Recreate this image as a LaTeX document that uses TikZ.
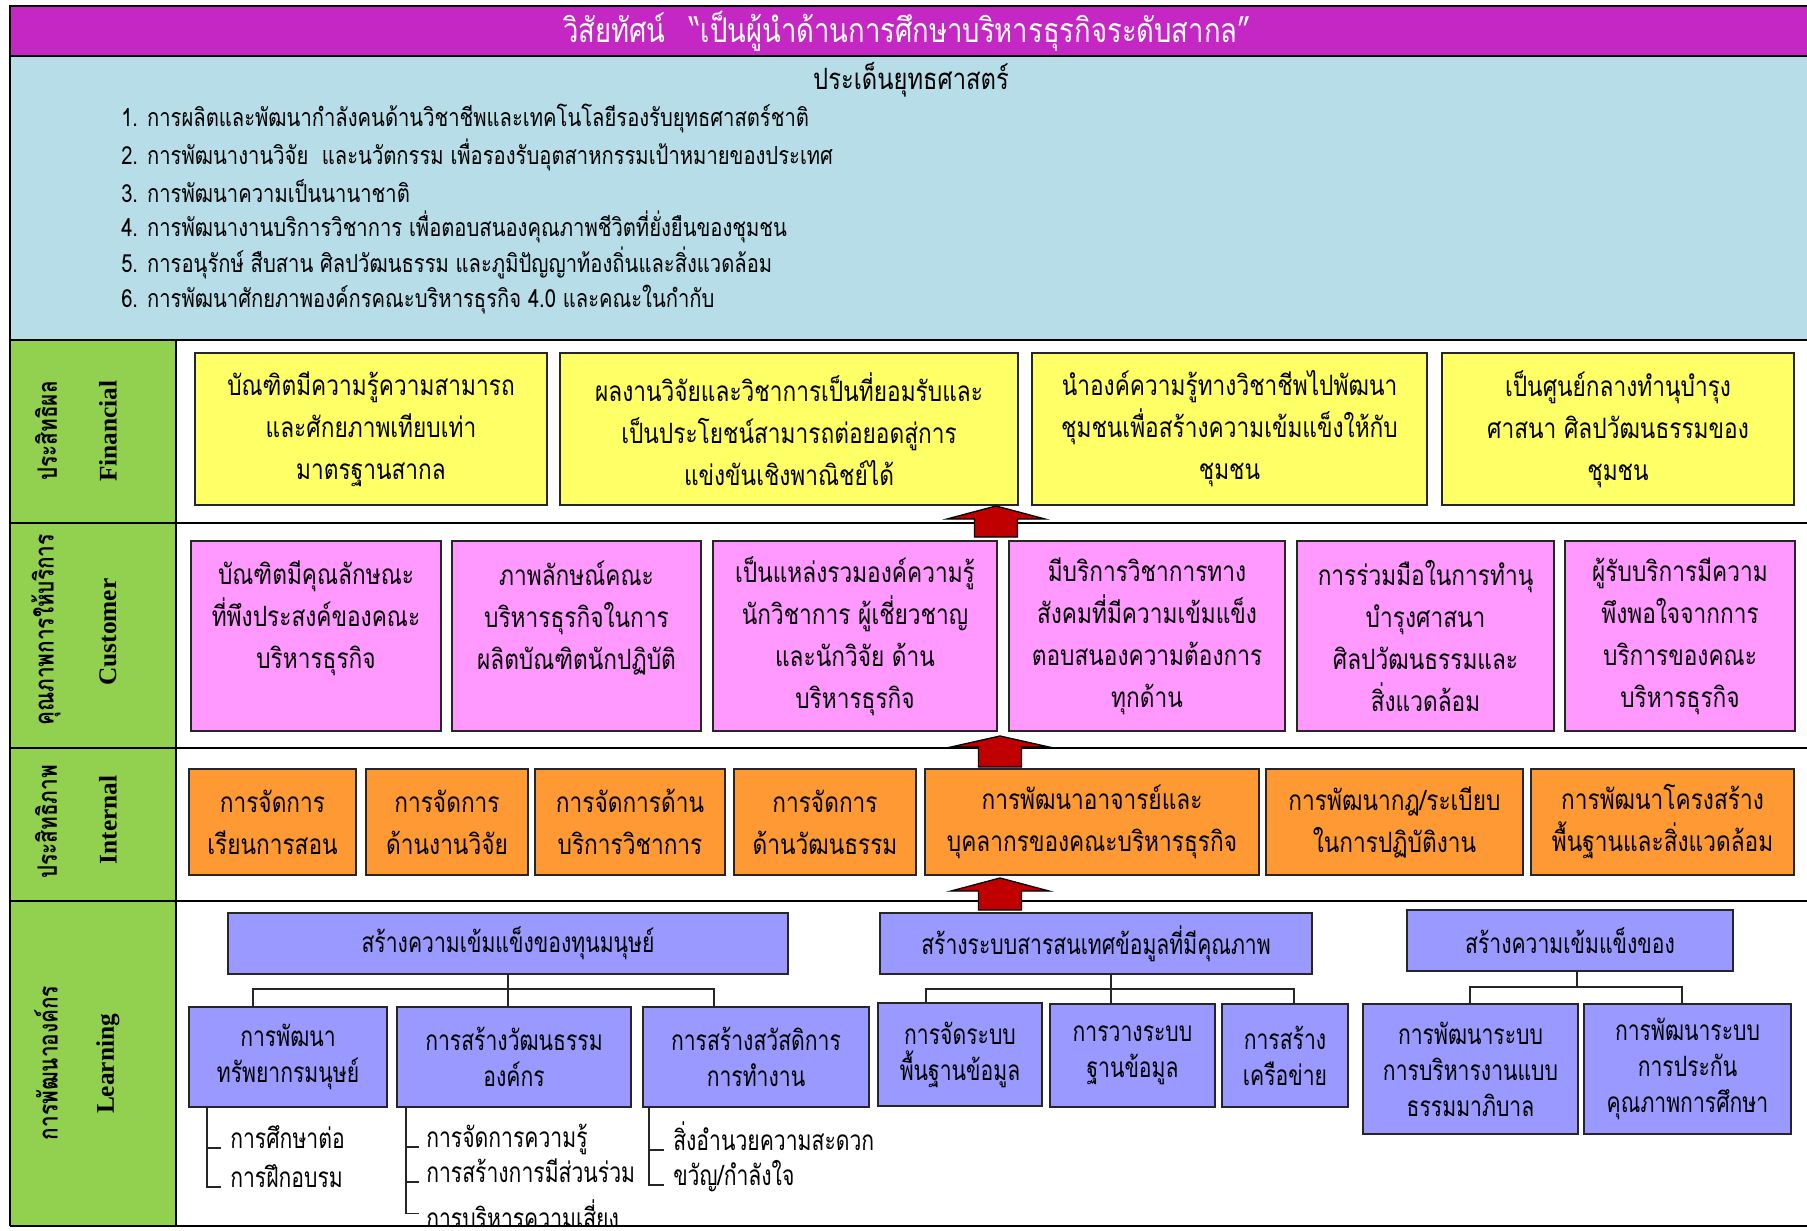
\documentclass[tikz,border=0pt]{standalone}
\usepackage{fontspec}
\setmainfont[Script=Thai]{Loma}
\newfontfamily\thaifont[Script=Thai,FakeStretch=0.81]{Loma}
\newfontfamily\thainarrow[Script=Thai,FakeStretch=0.755]{Loma}
\newfontfamily\thaiside[Script=Thai,FakeStretch=0.78]{Loma}
\newfontfamily\sidefont{Liberation Serif}
\newcommand\boxfont{\thaifont\fontsize{21}{31.5}\selectfont}
\newcommand\subfont{\thainarrow\fontsize{21}{27}\selectfont}
\newcommand\listfont{\thaifont\fontsize{18.7}{22}\selectfont}
\newcommand\headfont{\thaifont\fontsize{22}{26}\selectfont}
\newcommand\titlefont{\thaifont\fontsize{25.4}{30}\selectfont}
\newcommand\sidethai{\thaiside\bfseries\fontsize{20}{23}\selectfont}
\newcommand\sideeng{\sidefont\bfseries\fontsize{19}{22}\selectfont}
\definecolor{titlemag}{RGB}{196,39,196}
\definecolor{bandblue}{RGB}{183,222,232}
\definecolor{sidegreen}{RGB}{146,208,80}
\definecolor{finyellow}{RGB}{255,255,102}
\definecolor{custpink}{RGB}{255,153,255}
\definecolor{intorange}{RGB}{255,153,51}
\definecolor{lrnpurple}{RGB}{153,153,255}
\definecolor{arrowred}{RGB}{192,0,0}
\begin{document}
\begin{tikzpicture}[x=0.75pt,y=0.75pt,yscale=-1,xscale=1,
  boxsize/.style 2 args={minimum width=#1*0.75pt,minimum height=#2*0.75pt},
  box/.style={draw=black!85,line width=1.3pt,align=center,inner sep=0pt,font=\boxfont},
  finbox/.style={box,fill=finyellow},
  custbox/.style={box,fill=custpink},
  intbox/.style={box,fill=intorange},
  lrnbox/.style={box,fill=lrnpurple,font=\subfont},
  rowline/.style={line width=2.2pt},
  treeline/.style={line width=1.1pt,draw=black!85},
  itemtext/.style={anchor=base west,inner sep=0pt,font=\subfont},
  blockarrow/.style={draw=black,fill=arrowred,line width=1pt,line join=miter}]
\useasboundingbox (0,0) rectangle (1807,1231);

%Shape: Bands
\fill[white] (0,0) rectangle (1807,1231);
\fill[titlemag] (10,6) rectangle (1807,56);
\fill[bandblue] (10,56) rectangle (1807,340);
\fill[sidegreen] (10,340) rectangle (176,1226);

%Straight Lines: frame and rows
\draw[rowline] (1812,6) -- (10,6) -- (10,1226);
\draw[rowline] (10,56) -- (1812,56);
\draw[rowline] (10,340) -- (1812,340);
\draw[rowline] (10,523) -- (1812,523);
\draw[rowline] (10,748) -- (1812,748);
\draw[rowline] (10,901) -- (1812,901);
\draw[rowline] (176,340) -- (176,1226);

% Text Node
\node[font=\titlefont,text=white,inner sep=0pt] (vision) at (907,31) {วิสัยทัศน์\hspace{0.7em}“เป็นผู้นำด้านการศึกษาบริหารธุรกิจระดับสากล”};
% Text Node
\node[font=\headfont,inner sep=0pt] (issues) at (911,80) {ประเด็นยุทธศาสตร์};
% Text Node
\node[font=\listfont,anchor=west,inner sep=0pt] (iss1) at (121,119) {1. การผลิตและพัฒนากำลังคนด้านวิชาชีพและเทคโนโลยีรองรับยุทธศาสตร์ชาติ};
\node[font=\listfont,anchor=west,inner sep=0pt] (iss2) at (121,155) {2. การพัฒนางานวิจัย\ \ และนวัตกรรม เพื่อรองรับอุตสาหกรรมเป้าหมายของประเทศ};
\node[font=\listfont,anchor=west,inner sep=0pt] (iss3) at (121,191) {3. การพัฒนาความเป็นนานาชาติ};
\node[font=\listfont,anchor=west,inner sep=0pt] (iss4) at (121,227) {4. การพัฒนางานบริการวิชาการ เพื่อตอบสนองคุณภาพชีวิตที่ยั่งยืนของชุมชน};
\node[font=\listfont,anchor=west,inner sep=0pt] (iss5) at (121,263) {5. การอนุรักษ์ สืบสาน ศิลปวัฒนธรรม และภูมิปัญญาท้องถิ่นและสิ่งแวดล้อม};
\node[font=\listfont,anchor=west,inner sep=0pt] (iss6) at (121,300) {6. การพัฒนาศักยภาพองค์กรคณะบริหารธุรกิจ 4.0 และคณะในกำกับ};

% Text Node: side labels
\node[font=\sidethai,rotate=90] (finTh) at (46,431) {ประสิทธิผล};
\node[font=\sideeng,rotate=90] (finEn) at (108,431) {Financial};
\node[font=\sidethai,rotate=90] (custTh) at (46,630) {คุณภาพการให้บริการ};
\node[font=\sideeng,rotate=90] (custEn) at (108,632) {Customer};
\node[font=\sidethai,rotate=90] (intTh) at (46,822) {ประสิทธิภาพ};
\node[font=\sideeng,rotate=90] (intEn) at (108,820) {Internal};
\node[font=\sidethai,rotate=90] (lrnTh) at (46,1063) {การพัฒนาองค์กร};
\node[font=\sideeng,rotate=90] (lrnEn) at (108,1064) {Learning};

%Shape: Financial boxes
\node[finbox,boxsize={352}{152}] (fin1) at (371,429) {บัณฑิตมีความรู้ความสามารถ\\และศักยภาพเทียบเท่า\\มาตรฐานสากล};
\node[finbox,boxsize={458}{152}] (fin2) at (789,429) {ผลงานวิจัยและวิชาการเป็นที่ยอมรับและ\\เป็นประโยชน์สามารถต่อยอดสู่การ\\แข่งขันเชิงพาณิชย์ได้};
\node[finbox,boxsize={395}{152}] (fin3) at (1229.5,429) {นำองค์ความรู้ทางวิชาชีพไปพัฒนา\\ชุมชนเพื่อสร้างความเข้มแข็งให้กับ\\ชุมชน};
\node[finbox,boxsize={352}{152}] (fin4) at (1618,429) {เป็นศูนย์กลางทำนุบำรุง\\ศาสนา ศิลปวัฒนธรรมของ\\ชุมชน};

%Shape: Customer boxes
\node[custbox,boxsize={250}{190}] (cust1) at (316,636) {บัณฑิตมีคุณลักษณะ\\ที่พึงประสงค์ของคณะ\\บริหารธุรกิจ\\~};
\node[custbox,boxsize={249}{190}] (cust2) at (576.5,636) {ภาพลักษณ์คณะ\\บริหารธุรกิจในการ\\ผลิตบัณฑิตนักปฏิบัติ\\~};
\node[custbox,boxsize={284}{190}] (cust3) at (855,636) {เป็นแหล่งรวมองค์ความรู้\\นักวิชาการ ผู้เชี่ยวชาญ\\และนักวิจัย ด้าน\\บริหารธุรกิจ};
\node[custbox,boxsize={276}{190}] (cust4) at (1147,636) {มีบริการวิชาการทาง\\สังคมที่มีความเข้มแข็ง\\ตอบสนองความต้องการ\\ทุกด้าน};
\node[custbox,boxsize={257}{190}] (cust5) at (1425.5,636) {การร่วมมือในการทำนุ\\บำรุงศาสนา\\ศิลปวัฒนธรรมและ\\สิ่งแวดล้อม};
\node[custbox,boxsize={230}{190}] (cust6) at (1680,636) {ผู้รับบริการมีความ\\พึงพอใจจากการ\\บริการของคณะ\\บริหารธุรกิจ};

%Shape: Internal boxes
\node[intbox,boxsize={167}{106}] (int1) at (272.5,822) {การจัดการ\\เรียนการสอน};
\node[intbox,boxsize={162}{106}] (int2) at (447,822) {การจัดการ\\ด้านงานวิจัย};
\node[intbox,boxsize={190}{106}] (int3) at (630,822) {การจัดการด้าน\\บริการวิชาการ};
\node[intbox,boxsize={182}{106}] (int4) at (825,822) {การจัดการ\\ด้านวัฒนธรรม};
\node[intbox,boxsize={334}{106}] (int5) at (1092,822) {การพัฒนาอาจารย์และ\\บุคลากรของคณะบริหารธุรกิจ};
\node[intbox,boxsize={257}{106}] (int6) at (1394.5,822) {การพัฒนากฎ/ระเบียบ\\ในการปฏิบัติงาน};
\node[intbox,boxsize={263}{106}] (int7) at (1662.5,822) {การพัฒนาโครงสร้าง\\พื้นฐานและสิ่งแวดล้อม};

%Shape: Learning boxes
\node[lrnbox,boxsize={560}{61}] (lrnA) at (508,943.5) {สร้างความเข้มแข็งของทุนมนุษย์};
\node[lrnbox,boxsize={432}{61}] (lrnB) at (1096,943.5) {สร้างระบบสารสนเทศข้อมูลที่มีคุณภาพ};
\node[lrnbox,boxsize={326}{61}] (lrnC) at (1570,940.5) {สร้างความเข้มแข็งของ};
\node[lrnbox,boxsize={198}{100}] (lrnA1) at (288,1057) {การพัฒนา\\ทรัพยากรมนุษย์};
\node[lrnbox,boxsize={234}{100}] (lrnA2) at (514,1057) {การสร้างวัฒนธรรม\\องค์กร};
\node[lrnbox,boxsize={226}{100}] (lrnA3) at (756,1057) {การสร้างสวัสดิการ\\การทำงาน};
\node[lrnbox,boxsize={164}{103}] (lrnB1) at (960,1054.5) {การจัดระบบ\\พื้นฐานข้อมูล};
\node[lrnbox,boxsize={165}{103}] (lrnB2) at (1132.5,1055.5) {การวางระบบ\\ฐานข้อมูล};
\node[lrnbox,boxsize={126}{103}] (lrnB3) at (1285,1055.5) {การสร้าง\\เครือข่าย};
\node[lrnbox,boxsize={215}{130}] (lrnC1) at (1470.5,1069) {การพัฒนาระบบ\\การบริหารงานแบบ\\ธรรมมาภิบาล};
\node[lrnbox,boxsize={207}{130}] (lrnC2) at (1687.5,1069) {การพัฒนาระบบ\\การประกัน\\คุณภาพการศึกษา};

%Straight Lines: tree connectors
\coordinate (jA1) at (253,989);
\coordinate (jA3) at (714,989);
\draw[treeline] (lrnA.south) -- (lrnA.south |- lrnA2.north);
\draw[treeline] (jA1 |- lrnA1.north) -- (jA1) -- (jA3) -- (jA3 |- lrnA3.north);
\coordinate (jB) at (1111,989);
\coordinate (jB1) at (926,989);
\coordinate (jB3) at (1294,989);
\draw[treeline] (jB |- lrnB.south) -- (jB |- lrnB2.north);
\draw[treeline] (jB1 |- lrnB1.north) -- (jB1) -- (jB3) -- (jB3 |- lrnB3.north);
\coordinate (jC) at (1577,987);
\coordinate (jC1) at (1470,987);
\coordinate (jC2) at (1682,987);
\draw[treeline] (jC |- lrnC.south) -- (jC);
\draw[treeline] (jC1 |- lrnC1.north) -- (jC1) -- (jC2) -- (jC2 |- lrnC2.north);

% Text Node: sub items
\node[itemtext] (a1i1) at (230,1148) {การศึกษาต่อ};
\node[itemtext] (a1i2) at (230,1187) {การฝึกอบรม};
\node[itemtext] (a2i1) at (426,1147) {การจัดการความรู้};
\node[itemtext] (a2i2) at (426,1182) {การสร้างการมีส่วนร่วม};
\node[itemtext] (a2i3) at (426,1228) {การบริหารความเสี่ยง};
\node[itemtext] (a3i1) at (673,1150) {สิ่งอำนวยความสะดวก};
\node[itemtext] (a3i2) at (673,1185) {ขวัญ/กำลังใจ};

%Straight Lines: item brackets
\coordinate (bA1) at (207,1107);
\coordinate (bA2) at (406,1107);
\coordinate (bA3) at (649,1107);
\draw[treeline] (bA1) |- ([xshift=-7pt]a1i2.base west);
\draw[treeline] (bA1 |- a1i1.base) -- ([xshift=-7pt]a1i1.base west);
\draw[treeline] (bA2) |- ([xshift=-5pt]a2i3.west);
\draw[treeline] (bA2 |- a2i1.base) -- ([xshift=-5pt]a2i1.base west);
\draw[treeline] (bA2 |- a2i2.base) -- ([xshift=-5pt]a2i2.base west);
\draw[treeline] (bA3) |- ([xshift=-7pt]a3i2.base west);
\draw[treeline] (bA3 |- a3i1.base) -- ([xshift=-7pt]a3i1.base west);

%Shape: Up Arrows
\coordinate (tipFin) at (996,506);
\draw[blockarrow] (tipFin) -- ++(49,13) -- ++(-27.5,0) -- ++(0,18) -- ++(-43,0) -- ++(0,-18) -- ++(-27.5,0) -- cycle;
\coordinate (tipCust) at (1000,736);
\draw[blockarrow] (tipCust) -- ++(49,11) -- ++(-27.5,0) -- ++(0,20) -- ++(-43,0) -- ++(0,-20) -- ++(-27.5,0) -- cycle;
\coordinate (tipInt) at (1000,878);
\draw[blockarrow] (tipInt) -- ++(49,13) -- ++(-27.5,0) -- ++(0,19) -- ++(-43,0) -- ++(0,-19) -- ++(-27.5,0) -- cycle;

%Shape: bottom edge
\fill[white] (0,1227) rectangle (1807,1231);
\draw[rowline] (10,1226) -- (1812,1226);

\end{tikzpicture}
\end{document}
